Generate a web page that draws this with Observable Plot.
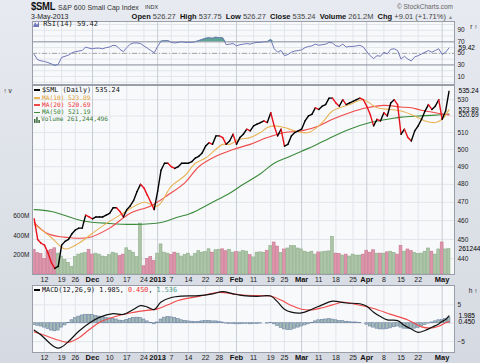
<!DOCTYPE html>
<html><head><meta charset="utf-8">
<script src="https://cdn.jsdelivr.net/npm/d3@7"></script>
<script src="https://cdn.jsdelivr.net/npm/@observablehq/plot@0.6"></script>
<style>
body{margin:0;}
#wrap{position:relative;width:480px;height:363px;background:linear-gradient(#e7eaf0,#d5d9e1);overflow:hidden;font-family:"Liberation Sans",Arial,sans-serif;}
.t{position:absolute;white-space:nowrap;line-height:1;}
</style></head>
<body><div id="wrap"></div>
<script>
// ---- data (trading-day index 0 = 7-Nov-2012 ... 121 = 3-May-2013) ----
const close = [461,450,448,447,443,438,435,436,447,449,
450,453,455,456,456,463,462,461,462,462,
462,463,464,467,467,465,462,466,468,471,
476,480,478,474,470,466,476,488,492,492,
490,489,490,492,492,492,493,495,496,498,
502,504,503,508,508,507,503,505,509,503,
507,509,512,511,514,515,516,517,516,522,
514,508,512,502,503,508,510,511,512,517,
520,521,525,524,526,527,531,531,528,526,
530,527,528,529,530,531,530,526,521,514,
518,517,522,520,528,530,527,509,512,507,
505,511,514,518,523,527,524,526,530,518,
523,535.24];
const volume = [255,220,210,160,240,255,270,215,185,150,
120,80,180,205,215,220,255,205,215,205,
185,180,200,225,215,190,205,270,245,225,
180,525,85,160,180,140,215,310,225,215,
200,225,215,185,200,215,185,210,240,225,
230,260,225,250,255,260,240,255,225,230,
228,241,236,200,176,225,228,225,245,292,
330,288,222,258,268,292,292,268,258,235,
225,235,205,228,228,235,238,388,215,212,
195,205,185,205,195,195,205,245,225,250,
215,215,215,228,235,222,205,296,235,258,
241,222,212,215,235,268,235,205,258,330,
258,261.2];
const rsi = [48,39,37,36,34,32,29,31,43,45,
47,51,53,54,55,61,59,58,59,59,
58,60,61,64,63,57,53,60,66,68,
68,67,63,59,55,51,62,71,72,72,
69,68,69,70,69,69,69,70,72,74,
76,77,76,78,77,77,65,66,67,63,
65,66,67,66,68,69,69,70,70,74,
58,52,55,46,48,52,54,55,56,60,
62,63,66,64,65,66,69,68,63,62,
66,61,62,62,63,64,61,53,46,41,
46,45,52,49,57,58,55,40,45,40,
37,44,46,49,52,55,52,55,58,48,
52,59.42];
const macdHist = [-0.5,-0.7,-0.9,-1.2,-1.6,-2.0,-2.2,-2.0,-1.2,-0.6,
0.1,0.8,1.4,1.8,2.1,2.3,2.3,2.2,2.0,1.8,
1.7,1.5,1.3,1.2,1.0,0.7,0.6,0.9,1.2,1.4,
1.5,1.4,1.0,0.5,0.1,-0.3,0.2,1.0,1.5,1.7,
1.6,1.4,1.1,0.8,0.6,0.5,0.4,0.3,0.4,0.5,
0.6,0.6,0.5,0.5,0.4,0.2,-0.1,-0.2,-0.2,-0.3,
-0.3,-0.2,-0.2,-0.3,-0.2,-0.2,-0.1,0.0,-0.1,0.1,
-0.3,-0.8,-1.3,-1.7,-1.9,-1.8,-1.5,-1.2,-0.9,-0.6,
-0.3,0.1,0.5,0.8,0.9,1.0,1.1,1.0,0.8,0.6,
0.6,0.4,0.3,0.2,0.2,0.1,0.0,-0.4,-0.9,-1.2,
-1.5,-1.7,-1.7,-1.6,-1.4,-1.1,-0.9,-1.2,-1.5,-1.6,
-1.6,-1.5,-1.3,-0.9,-0.5,-0.1,0.2,0.5,0.8,0.9,
1.2,1.536];
const ma10 = [[0,458],[5,451],[9,445],[13,448],[19,456],[25,463],[32,470],[36,468],[40,479],[44,485],[47,492],[50,495],[55,503],[57,503],[60,506],[63,507],[66,510],[68,513],[70,514],[73,513],[76,511],[80,510],[84,516],[87,523],[92,527],[96,530],[100,525],[104,524],[107,523],[111,520],[114,517],[117,516],[119,518],[121,523.89]];
const ma20 = [[0,459],[4,453],[10,451],[16,451],[22,456],[28,464],[34,468],[39,474],[44,481],[48,490],[53,496],[58,500],[63,503],[68,507],[73,510],[78,511],[83,514],[87,518],[92,522],[97,525],[102,526.5],[107,525.5],[110,525],[113,523.5],[117,522],[121,520.69]];
const ma50 = [[0,466],[5,465],[14,460],[22,458.5],[29,458],[37,459],[42,462],[45,463.5],[48,466],[52,470],[57,475],[61,480],[66,486],[70,492],[74,495.5],[78,499],[82,502.5],[86,506.5],[92,512],[98,516],[104,518.3],[107,519.3],[112,520],[117,520.5],[121,521.19]];
const macdLine = [[0,-1.9],[2,-3.2],[4,-5.0],[6,-6.5],[7,-6.8],[8,-6.5],[10,-5.0],[13,-2.2],[16,0.0],[19,1.6],[23,2.6],[26,2.4],[29,3.8],[31,4.8],[33,4.4],[35,3.7],[37,5.8],[40,7.0],[43,7.4],[48,7.5],[52,8.0],[55,8.6],[58,8.0],[61,7.5],[65,7.3],[69,7.4],[71,5.8],[73,3.8],[75,3.0],[78,2.8],[81,3.8],[84,5.0],[87,6.0],[91,5.5],[95,5.3],[97,4.6],[99,3.0],[101,1.8],[103,0.9],[106,0.7],[108,-0.6],[110,-1.6],[112,-2.5],[114,-2.0],[116,-1.1],[118,-0.2],[119,0.5],[120,1.0],[121,1.985]];
const signalLine = [[0,-2.4],[3,-3.3],[7,-4.6],[10,-5.2],[13,-4.0],[16,-1.8],[19,0.2],[24,1.9],[28,2.8],[31,3.3],[36,3.9],[39,5.0],[42,6.2],[48,7.3],[54,8.4],[58,8.0],[61,7.7],[66,7.5],[69,7.4],[72,6.3],[75,4.8],[78,3.8],[81,3.6],[84,4.2],[87,5.0],[90,5.7],[94,5.1],[99,4.0],[104,2.4],[109,0.9],[113,-1.0],[116,-1.3],[118,-0.8],[120,0.1],[121,0.45]];
const tickIdx = [3,8,12,17,22,27,32,36,40,45,50,54,59,64,69,73,78,83,88,93,97,102,107,112,119];
const tickLabel = ["12","19","26","Dec","10","17","24","2013","7","14","22","28","Feb","11","19","25","Mar","11","18","25","Apr","8","15","22","May"];
const monthLabels = ["Dec","2013","Feb","Mar","Apr","May"];
const priceGrid = [440,450,460,470,480,490,500,510,520,530];
const priceTicks = [440,450,460,470,480,490,500,510,530];
const rsiTicks = [10,30,50,70,90];
const macdTicks = [-5,5];
const volTicks = [200,400,600];

// ---- build ----
const wrap = document.getElementById("wrap");
const days = close.map((c,i)=>({i, c, prev: i>0 ? close[i-1] : c + 1, v: volume[i], r: rsi[i], h: macdHist[i]}));
const ticks = tickIdx.map((i,k)=>({i, label: tickLabel[k], month: monthLabels.includes(tickLabel[k])}));
const xDomain = [-0.5, 122.6];
const PANEL = "#f8f9fb", GRID = "#e2e5eb", MGRID = "#c8ccd4", BORDER = "#9a9ea8";
const common = {
  width: 480, marginLeft: 32, marginRight: 26,
  x: {domain: xDomain, axis: null},
  color: {type: "identity"},
  style: {background: "transparent", fontFamily: "Liberation Sans, Arial, sans-serif", fontSize: "6.5px", color: "#222", overflow: "visible"}
};
const vgrid = () => Plot.ruleX(ticks, {x: "i", stroke: d => d.month ? MGRID : GRID});
const xLabels = () => [
  Plot.text(ticks.filter(d=>!d.month), {x: "i", text: "label", frameAnchor: "bottom", dy: 7, fontSize: 7, fill: "#222"}),
  Plot.text(ticks.filter(d=>d.month), {x: "i", text: "label", frameAnchor: "bottom", dy: 7, fontSize: 7.5, fontWeight: "bold", fill: "#111"})
];
const vbox = (val, txt, col) => Plot.text([val], {x: () => xDomain[1], y: d => d, text: () => txt, dx: 4, textAnchor: "start", fontSize: 6.6, fill: "#000", ariaLabel: "vbox " + col});

function addBoxes(svg){
  svg.querySelectorAll('g[aria-label^="vbox"]').forEach(g => {
    const col = g.getAttribute("aria-label").split(" ")[1];
    g.querySelectorAll("text").forEach(t => {
      const b = t.getBBox();
      const r = document.createElementNS("http://www.w3.org/2000/svg", "rect");
      r.setAttribute("x", b.x - 2); r.setAttribute("y", b.y);
      r.setAttribute("width", b.width + 30); r.setAttribute("height", b.height);
      r.setAttribute("fill", "#fff"); r.setAttribute("stroke", col); r.setAttribute("stroke-width", 1);
      if (t.getAttribute("transform")) r.setAttribute("transform", t.getAttribute("transform"));
      t.parentNode.insertBefore(r, t);
    });
  });
}
function place(svg, top){
  svg.style.position = "absolute"; svg.style.left = "0px"; svg.style.top = top + "px";
  wrap.appendChild(svg); addBoxes(svg);
}
function txt(html, left, top, css){
  const d = document.createElement("div"); d.className = "t"; d.innerHTML = html;
  d.style.left = left + "px"; d.style.top = top + "px"; if (css) d.style.cssText += css;
  wrap.appendChild(d); return d;
}

// RSI panel
place(Plot.plot({...common, height: 63, marginTop: 0, marginBottom: 0,
  y: {domain: [-3.9, 105.2], axis: "right", ticks: rsiTicks, tickSize: 0, tickPadding: 3},
  marks: [
    Plot.frame({fill: PANEL}),
    Plot.ruleY(d3.range(0, 101, 10), {stroke: GRID}),
    vgrid(),
    Plot.ruleY([70, 30], {stroke: "#8f93a0"}),
    Plot.ruleY([50], {stroke: "#a5a5a5", strokeDasharray: "5,2,1,2"}),
    Plot.areaY(days, {x: "i", y1: 70, y2: d => Math.max(70, d.r), fill: "#5da592"}),
    Plot.areaY(days, {x: "i", y1: 30, y2: d => Math.min(30, d.r), fill: "#5da592"}),
    Plot.line(days, {x: "i", y: "r", stroke: "#6f77b8", strokeWidth: 1}),
    Plot.frame({stroke: BORDER}),
    vbox(rsi[rsi.length-1], rsi[rsi.length-1].toFixed(2), "#555")
  ]}), 21);

// Main panel: background + grid
place(Plot.plot({...common, height: 201, marginTop: 0, marginBottom: 12,
  y: {type: "log", domain: [431.9, 538.9], axis: null},
  marks: [Plot.frame({fill: PANEL}), Plot.ruleY(priceGrid, {stroke: GRID}), vgrid()]}), 85);

// Volume bars
place(Plot.plot({...common, height: 201, marginTop: 0, marginBottom: 12,
  y: {domain: [0, 1948], axis: "left", ticks: volTicks, tickSize: 0, tickPadding: 3, tickFormat: d => d + "M"},
  marks: [
    Plot.rect(days, {x1: d => d.i - 0.42, x2: d => d.i + 0.42, y1: 0, y2: "v",
      fill: d => d.c < d.prev ? "#dc95ab" : "#abc5a6", stroke: d => d.c < d.prev ? "#c9768f" : "#8ead8a", strokeWidth: 0.6}),
    vbox(volume[volume.length-1], "261244496", "#555")
  ]}), 85);

// Price + MAs
place(Plot.plot({...common, height: 201, marginTop: 0, marginBottom: 12,
  y: {type: "log", domain: [431.9, 538.9], axis: "right", ticks: priceTicks, tickSize: 0, tickPadding: 3, tickFormat: d => String(d)},
  marks: [
    Plot.line(ma50, {x: d => d[0], y: d => d[1], stroke: "#3b8a3b", strokeWidth: 1.1, curve: "catmull-rom"}),
    Plot.line(ma20, {x: d => d[0], y: d => d[1], stroke: "#f04848", strokeWidth: 1.1, curve: "catmull-rom"}),
    Plot.line(ma10, {x: d => d[0], y: d => d[1], stroke: "#e9b458", strokeWidth: 1.1, curve: "catmull-rom"}),
    Plot.link(days.slice(1), {x1: d => d.i - 1, y1: "prev", x2: "i", y2: "c",
      stroke: d => d.c < d.prev ? "#e8101a" : "#000", strokeWidth: 1.4, strokeLinecap: "round"}),
    Plot.frame({stroke: BORDER}),
    ...xLabels(),
    vbox(520.69, "520.69", "#f04848"),
    vbox(523.89, "523.89", "#e9a030"),
    vbox(close[close.length-1], "535.24", "#000")
  ]}), 85);

// MACD panel
place(Plot.plot({...common, height: 79, marginTop: 0, marginBottom: 12,
  y: {domain: [-7.98, 10.27], axis: "right", ticks: macdTicks, tickSize: 0, tickPadding: 3},
  marks: [
    Plot.frame({fill: PANEL}),
    Plot.ruleY([-5, 0, 5], {stroke: GRID}),
    vgrid(),
    Plot.rect(days, {x1: d => d.i - 0.42, x2: d => d.i + 0.42, y1: 0, y2: "h", fill: "#a3bab5", stroke: "#6d83a6", strokeWidth: 0.6}),
    Plot.line(signalLine, {x: d => d[0], y: d => d[1], stroke: "#f24a4a", strokeWidth: 1.1, curve: "catmull-rom"}),
    Plot.line(macdLine, {x: d => d[0], y: d => d[1], stroke: "#111", strokeWidth: 1.2, curve: "catmull-rom"}),
    Plot.frame({stroke: BORDER}),
    ...xLabels(),
    vbox(0.45, "0.450", "#f04848"),
    vbox(1.985, "1.985", "#000")
  ]}), 285);

// ---- texts ----
txt("$SML", 31, 1, "font-weight:bold;font-size:11px;letter-spacing:-0.3px;color:#111;transform:scaleX(0.86);transform-origin:left top;");
txt("S&amp;P 600 Small Cap Index", 58, 3.5, "font-size:7px;color:#333;");
txt("INDX", 145, 4.5, "font-size:5.5px;color:#333;");
txt("3-May-2013", 31, 12.5, "font-size:7px;color:#222;");
txt("&copy; StockCharts.com", 0, 3.5, "font-size:6.5px;color:#666;left:auto;right:27px;");
txt('<b>Open</b> <span style="color:#444">526.27</span> &nbsp;<b>High</b> <span style="color:#444">537.75</span> &nbsp;<b>Low</b> <span style="color:#444">526.27</span> &nbsp;<b>Close</b> <span style="color:#444">535.24</span> &nbsp;<b>Volume</b> <span style="color:#444">261.2M</span> &nbsp;<b>Chg</b> <span style="color:#444">+9.01 (+1.71%)</span> <span style="color:#888;font-size:5px">&#9650;</span>',
  0, 12.5, "font-size:7.5px;color:#111;left:auto;right:27px;");

// RSI label
txt('<svg width="6" height="6" style="vertical-align:middle"><polygon points="0,6 2,1 4,4 6,0 6,6" fill="#6f77b8"/></svg> RSI(14) 59.42', 33, 21, "font-family:'DejaVu Sans Mono',monospace;font-size:7px;color:#222;");
// main legend
const dash = c => `<span style="display:inline-block;width:6px;height:1.6px;background:${c};vertical-align:middle;margin-right:2px"></span>`;
txt(dash("#000") + "$SML (Daily) 535.24", 34, 87, "font-family:'DejaVu Sans Mono',monospace;font-size:6.8px;color:#111;");
txt(dash("#e9b458") + "MA(10) 523.89", 34, 94.5, "font-family:'DejaVu Sans Mono',monospace;font-size:6.2px;color:#e0a030;");
txt(dash("#f04848") + "MA(20) 520.69", 34, 101.8, "font-family:'DejaVu Sans Mono',monospace;font-size:6.2px;color:#f03030;");
txt(dash("#3b8a3b") + "MA(50) 521.19", 34, 109, "font-family:'DejaVu Sans Mono',monospace;font-size:6.2px;color:#2f7f2f;");
txt('<svg width="6" height="6" style="vertical-align:middle;margin-right:1px"><rect x="0" y="2" width="1.5" height="4" fill="#3a6a3a"/><rect x="2.2" y="0" width="1.5" height="6" fill="#3a6a3a"/><rect x="4.4" y="3" width="1.5" height="3" fill="#3a6a3a"/></svg>Volume 261,244,496', 34, 116.3, "font-family:'DejaVu Sans Mono',monospace;font-size:6.2px;color:#3a7a3a;");
// MACD legend
txt(dash("#000") + 'MACD(12,26,9) 1.985, <span style="color:#f03030">0.450</span>, <span style="color:#4a9a8a">1.536</span>', 34, 287, "font-family:'DejaVu Sans Mono',monospace;font-size:6.8px;color:#111;");
</script>
</body></html>
